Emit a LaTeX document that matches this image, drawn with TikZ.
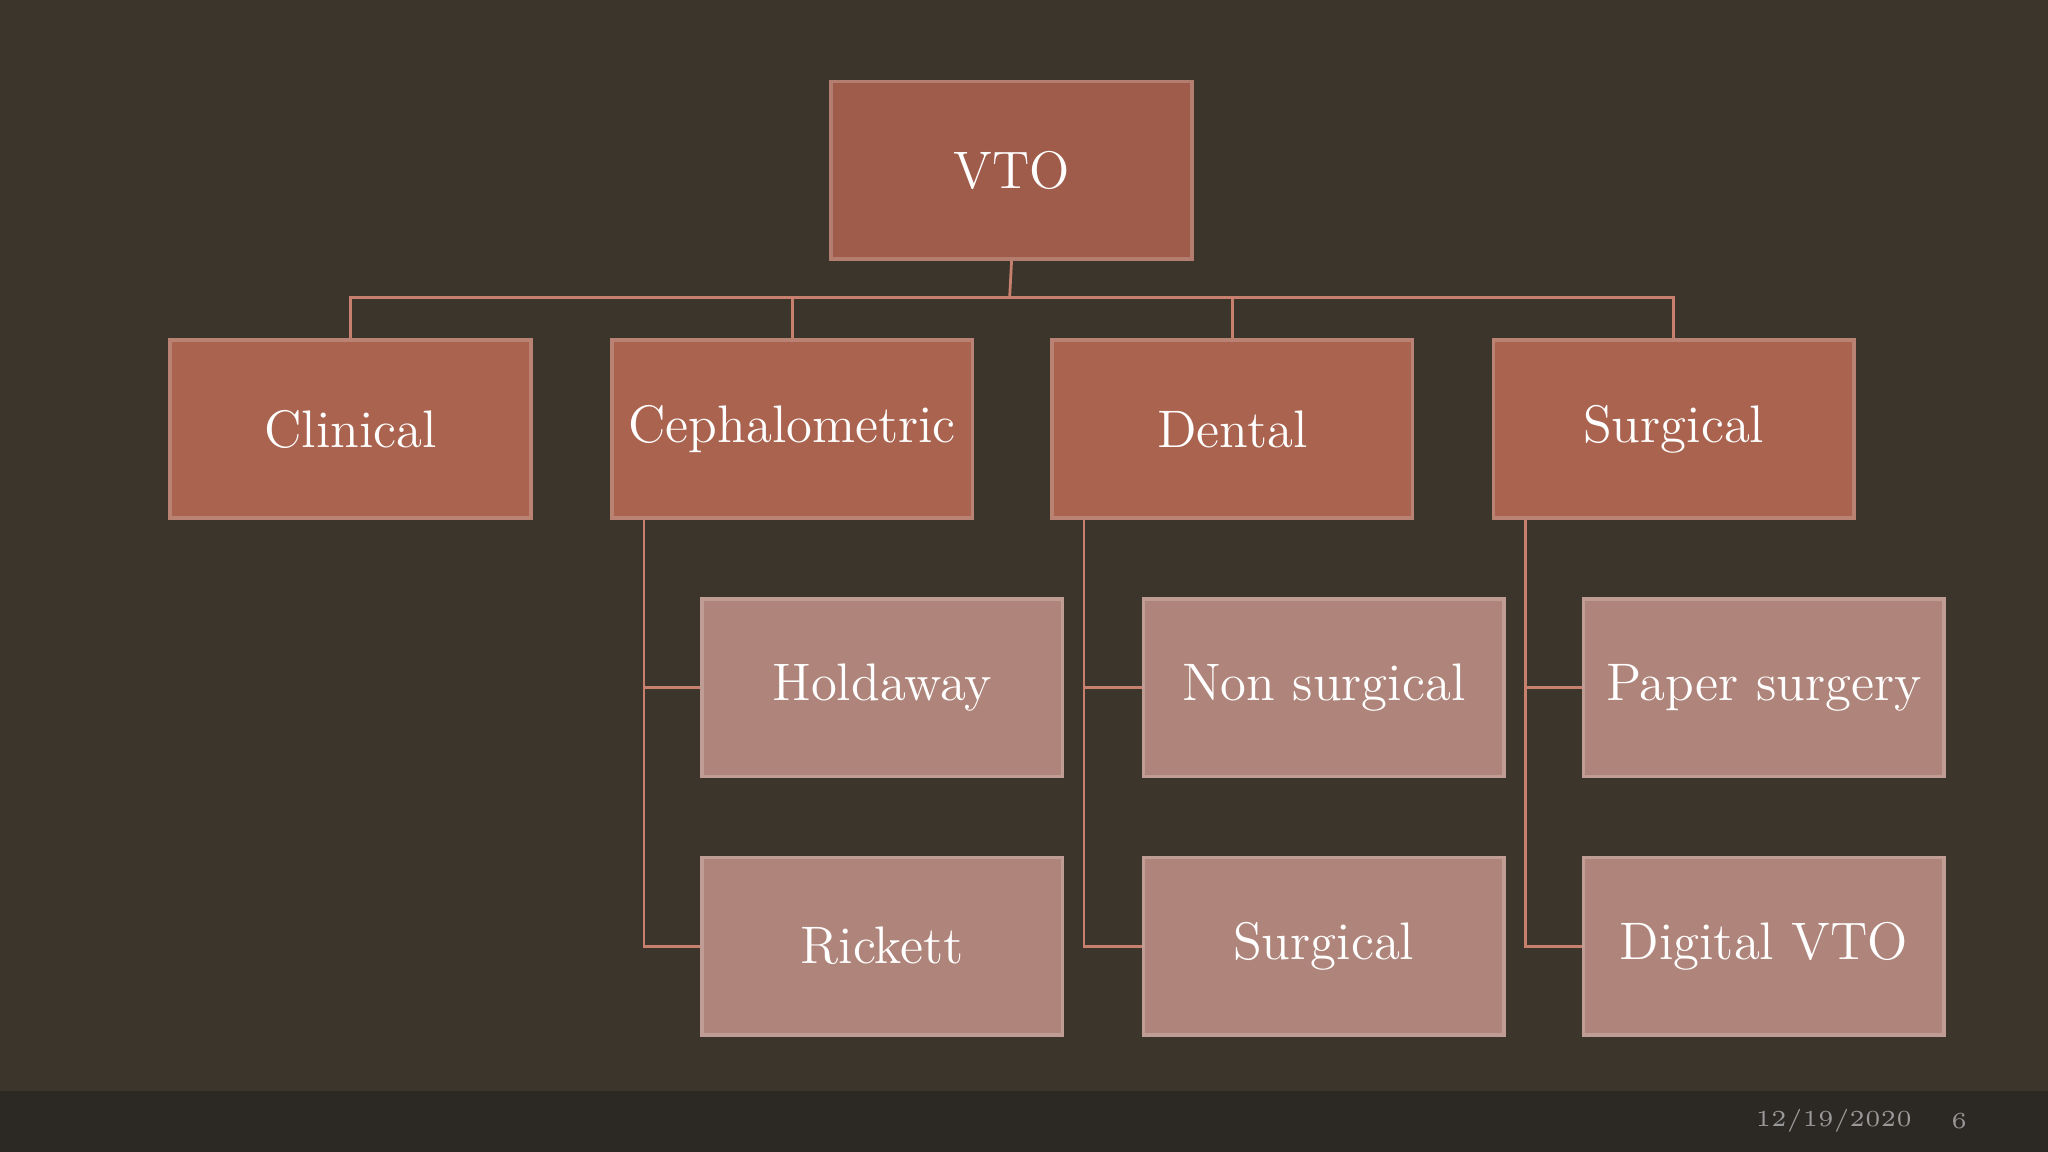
\documentclass[tikz,border=0pt]{standalone}
\begin{document}
\begin{tikzpicture}[x=0.01cm,y=-0.01cm,
  box/.style={minimum width=2.76cm,minimum height=1.36cm,inner sep=0pt,anchor=north west,text=white,font=\fontsize{11.5}{14}\selectfont,draw=#1!80!white,line width=0.8pt},
  top/.style={box=topc,fill=topc},
  mid/.style={box=midc,fill=midc},
  low/.style={box=lowc,fill=lowc},
  conn/.style={draw=linec,line width=0.6pt}]
\definecolor{bgc}{HTML}{3C352C}
\definecolor{barc}{HTML}{2C2824}
\definecolor{topc}{HTML}{A05C4B}
\definecolor{midc}{HTML}{A9634F}
\definecolor{lowc}{HTML}{AF847A}
\definecolor{linec}{HTML}{C8806E}
\fill[bgc] (0,0) rectangle (1568,882);
\fill[barc] (0,835) rectangle (1568,882);
\useasboundingbox (0,0) rectangle (1568,882);
\node[top] (vto) at (635,61) {VTO};
\node[mid] (cl) at (129,259) {Clinical};
\node[mid] (ce) at (467,259) {Cephalometric};
\node[mid] (de) at (804,259) {Dental};
\node[mid] (su) at (1142,259) {Surgical};
\node[low] (ho) at (536,457) {Holdaway};
\node[low] (ri) at (536,655) {Rickett};
\node[low] (ns) at (874,457) {Non surgical};
\node[low] (ds) at (874,655) {Surgical};
\node[low] (ps) at (1211,457) {Paper surgery};
\node[low] (dv) at (1211,655) {Digital VTO};
\coordinate (hb) at (773,228);
\draw[conn] (vto.south) -- (hb);
\foreach \n in {cl,ce,de,su} \draw[conn] (hb) -| (\n.north);
\foreach \p/\a/\b/\x in {ce/ho/ri/493,de/ns/ds/830,su/ps/dv/1168}{
  \draw[conn] (\p.south west -| \x,0) |- (\b.west);
  \draw[conn] (\a.west) -- (\a.west -| \x,0);
}
\node[text=gray!80,font=\fontsize{5}{6}\selectfont] (date) at (1404,858) {12/19/2020};
\node[text=gray!80,font=\fontsize{5}{6}\selectfont] (pg) at (1500,858) {6};
\end{tikzpicture}
\end{document}
